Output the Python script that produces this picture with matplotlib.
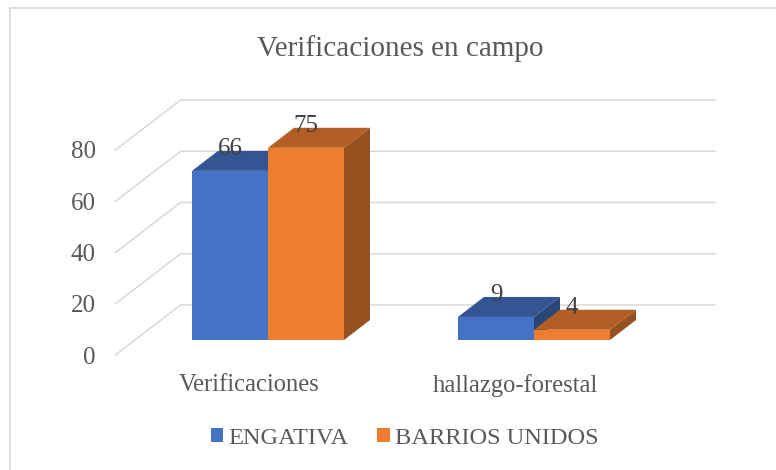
import matplotlib
matplotlib.use("Agg")
import matplotlib.pyplot as plt
from matplotlib.lines import Line2D
from matplotlib.patches import Polygon, Patch

categories = ["Verificaciones", "hallazgo-forestal"]
series_names = ["ENGATIVA", "BARRIOS UNIDOS"]
engativa = [66, 9]
barrios = [75, 4]
y_ticks = [0, 20, 40, 60, 80]
grid_values = [0, 20, 40, 60, 80]

W, H = 776, 470
plt.rcParams["font.family"] = ["Liberation Serif", "DejaVu Serif"]
fig = plt.figure(figsize=(W / 100, H / 100), dpi=100, facecolor="white")

# axes = the front plane of the pseudo-3D box
L, R, B, T = 115.5, 650, 355, 150
ax = fig.add_axes([L / W, 1 - B / H, (R - L) / W, (B - T) / H])
ax.set_xlim(-0.5, -0.5 + (R - L) / 266)
ax.set_ylim(0, 80)
ax.patch.set_alpha(0)
for s in ax.spines.values():
    s.set_visible(False)

PX_X = 266.0
PX_Y = (B - T) / 80
DX = 65 / PX_X      # full depth of the box, x data units
DY = 50 / PX_Y      # full depth of the box, y data units
D0, D1 = 0.30, 0.70 # bars sit between these depths
BW = 76 / PX_X


def proj(x, y, d):
    return (x + DX * d, y + DY * d)


GRID = "#D9D9D9"
xl, xr = ax.get_xlim()
for v in grid_values:
    p = [proj(xl, v, 0), proj(xl, v, 1), proj(xr, v, 1)]
    ax.plot(*zip(*p), color=GRID, lw=1.1, clip_on=False, zorder=1,
            solid_joinstyle="miter")

styles = [("#4472C4", "#335593", "#2A4676"), ("#ED7D31", "#B35E25", "#975020")]
z = 2
for i, vals in enumerate([engativa, barrios]):
    front, top, side = styles[i]
    for c, v in enumerate(vals):
        x0 = c - BW + i * BW
        x1 = x0 + BW
        faces = [
            ([proj(x1, 0, D0), proj(x1, 0, D1), proj(x1, v, D1), proj(x1, v, D0)], side),
            ([proj(x0, v, D0), proj(x0, v, D1), proj(x1, v, D1), proj(x1, v, D0)], top),
            ([proj(x0, 0, D0), proj(x1, 0, D0), proj(x1, v, D0), proj(x0, v, D0)], front),
        ]
        for pts, col in faces:
            ax.add_patch(Polygon(pts, closed=True, facecolor=col, edgecolor="none",
                                 clip_on=False, zorder=z))
            z += 1
        cx, cy = proj((x0 + x1) / 2, v, D0)
        ax.annotate(str(v), (cx, cy), xytext=(0, 16), textcoords="offset points",
                    ha="center", va="center", fontsize=18, color="#404040",
                    zorder=100, annotation_clip=False)

ax.set_yticks(y_ticks)
ax.set_yticklabels([str(t) for t in y_ticks], fontsize=18, color="#595959")
ax.set_xticks([0.004, 1.004])
ax.set_xticklabels(categories, fontsize=17.7, color="#595959")
ax.tick_params(axis="y", length=0, pad=14.3)
ax.tick_params(axis="x", length=0, pad=14)

fig.text(400.5 / W, 1 - 49 / H, "Verificaciones en campo", ha="center", va="center",
         fontsize=21, color="#595959")

handles = [Patch(facecolor=styles[0][0]), Patch(facecolor=styles[1][0])]
fig.legend(handles, series_names, loc="center", bbox_to_anchor=(404.5 / W, 1 - 438 / H),
           ncols=2, frameon=False, fontsize=17.6, labelcolor="#595959",
           handlelength=0.5, handleheight=0.5, handletextpad=0.2, columnspacing=1.2)

# only the top and left edges of the chart frame are inside the crop
fig.add_artist(Line2D([10 / W, 10 / W, 1], [0, 1 - 8 / H, 1 - 8 / H], transform=fig.transFigure,
                      color="#D9D9D9", lw=1.2, solid_joinstyle="miter"))

fig.savefig("out.png", dpi=100)
